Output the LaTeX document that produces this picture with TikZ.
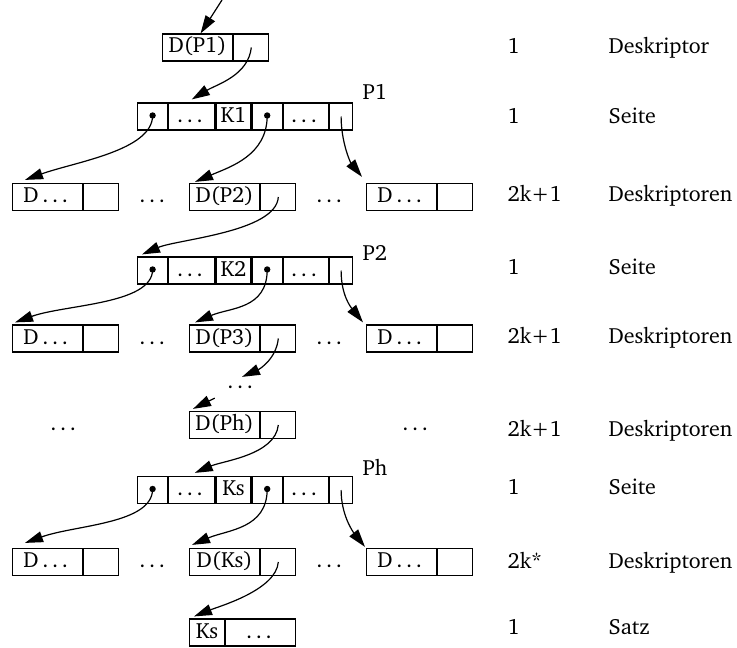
\documentclass[tikz,border=0pt]{standalone}
\usepackage[T1]{fontenc}
\usepackage{charter}
\usetikzlibrary{arrows.meta}
\tikzstyle{cell} = [draw, rectangle, minimum height=13.5pt, inner sep=0pt, anchor=west, text height=7.5pt, text depth=2pt]
\tikzstyle{dlabel} = [cell, minimum width=35pt]
\tikzstyle{dptr} = [cell, minimum width=17.5pt]
\tikzstyle{knot} = [circle, fill, inner sep=0pt, minimum size=3.2pt]
\tikzstyle{gap} = [inner sep=0pt, text height=7.5pt, text depth=2pt]
\tikzstyle{amount} = [anchor=base west, inner sep=0pt]
\tikzstyle{pname} = [anchor=west, inner sep=0pt]

% descriptor: name, x (left), y (middle), text
\newcommand{\descbox}[4]{%
  \node [dlabel] (#1) at (#2,#3) {#4};
  \node [dptr] (#1p) at (#1.east) {};
}
% page: name, y (middle), key
\newcommand{\pagebox}[3]{%
  \node [cell, minimum width=15pt] (#1a) at (137,#2) {};
  \node [cell, minimum width=23pt] (#1b) at (#1a.east) {\dots};
  \node [cell, minimum width=17.5pt] (#1c) at (#1b.east) {#3};
  \node [cell, minimum width=15pt] (#1d) at (#1c.east) {};
  \node [cell, minimum width=22.5pt] (#1e) at (#1d.east) {\dots};
  \node [cell, minimum width=11.5pt] (#1f) at (#1e.east) {};
  \node [knot] (#1ak) at ([yshift=0.5pt]#1a.center) {};
  \node [knot] (#1dk) at ([yshift=0.5pt]#1d.center) {};
}

\begin{document}
\begin{tikzpicture}[x=0.5pt, y=-0.5pt, >={Triangle[length=9pt,width=5.5pt]}, line width=0.6pt, font=\fontsize{11}{13}\selectfont]
	\useasboundingbox (0,0) rectangle (737,647);

	% left: the tree
	\coordinate (in) at (222,0);
	\descbox{top}{162}{47.5}{D(P1)}
	\pagebox{p1}{116.5}{K1}
	\node [pname] (n1) at (362,92) {P1};

	\descbox{l1}{12}{197}{D\,\dots}
	\descbox{m1}{189}{197}{D(P2)}
	\descbox{r1}{366}{197}{D\,\dots}
	\node [gap] (g1) at (154,197) {\dots};
	\node [gap] (h1) at (331,197) {\dots};

	\pagebox{p2}{270.5}{K2}
	\node [pname] (n2) at (362,253) {P2};

	\descbox{l2}{12}{338.5}{D\,\dots}
	\descbox{m2}{189}{338.5}{D(P3)}
	\descbox{r2}{366}{338.5}{D\,\dots}
	\node [gap] (g2) at (154,338.5) {\dots};
	\node [gap] (h2) at (331,338.5) {\dots};

	\node [gap] (skip) at (242,383) {\dots};
	\descbox{mh}{189}{425}{D(Ph)}
	\node [gap] (gh) at (65,425) {\dots};
	\node [gap] (hh) at (417,425) {\dots};

	\pagebox{p3}{490}{Ks}
	\node [pname] (n3) at (362,467) {Ph};

	\descbox{l3}{12}{562}{D\,\dots}
	\descbox{m3}{189}{562}{D(Ks)}
	\descbox{r3}{366}{562}{D\,\dots}
	\node [gap] (g3) at (154,562) {\dots};
	\node [gap] (h3) at (331,562) {\dots};

	\node [cell, minimum width=17.5pt] (ks) at (189,632.5) {Ks};
	\node [cell, minimum width=35pt] (ksr) at (ks.east) {\dots};

	% pointers
	\draw [->] (in) -- ([xshift=1.5pt]top.north);
	\draw [->] (topp.center) .. controls +(-3,28) and +(25,-15) .. ([yshift=1.5pt]p1b.north);
	\draw [->] (p1ak.center) .. controls +(0,35) and +(50,-18) .. ([xshift=6.5pt,yshift=1.5pt]l1.north west);
	\draw [->] (p1dk.center) .. controls +(0,40) and +(35,-15) .. ([xshift=3pt,yshift=0.5pt]m1.north west);
	\draw [->] (p1f.center) .. controls +(0,25) and +(-12,-15) .. ([xshift=-2pt,yshift=3pt]r1.north west);
	\draw [->] (m1p.center) .. controls +(-2,35) and +(35,-15) .. ([xshift=2.5pt,yshift=1pt]p2a.north west);
	\draw [->] (p2ak.center) .. controls +(0,35) and +(50,-18) .. ([xshift=1.5pt,yshift=1pt]l2.north west);
	\draw [->] (p2dk.center) .. controls +(0,40) and +(35,-15) .. ([xshift=3pt,yshift=1pt]m2.north west);
	\draw [->] (p2f.center) .. controls +(0,25) and +(-12,-15) .. ([xshift=-1.5pt,yshift=1pt]r2.north west);
	\draw [->] (m2p.center) .. controls +(-2,20) and +(18,-8) .. ([yshift=-2pt]skip.north);
	\draw [->] ([xshift=-6pt,yshift=-2.5pt]skip.south west) -- ([xshift=2pt,yshift=1pt]mh.north west);
	\draw [->] (mhp.center) .. controls +(-3,30) and +(28,-12) .. ([xshift=1.5pt,yshift=1.5pt]p3b.north);
	\draw [->] (p3ak.center) .. controls +(0,35) and +(50,-18) .. ([xshift=6.5pt,yshift=2.5pt]l3.north west);
	\draw [->] (p3dk.center) .. controls +(0,40) and +(35,-15) .. ([xshift=1.5pt,yshift=1.5pt]m3.north west);
	\draw [->] (p3f.center) .. controls +(0,25) and +(-12,-15) .. ([xshift=-0.5pt,yshift=0.5pt]r3.north west);
	\draw [->] (m3p.center) .. controls +(-2,28) and +(25,-10) .. ([xshift=2.5pt,yshift=1pt]ks.north west);

	% right: counts
	\foreach \y/\n/\t [count=\i] in {53.5/1/Deskriptor, 123.5/1/Seite, 201.5/2k+1/Deskriptoren, 274.5/1/Seite, 343.5/2k+1/Deskriptoren, 436.5/2k+1/Deskriptoren, 494.5/1/Seite, 568.5/2k*/Deskriptoren, 634.5/1/Satz}
	{
		\node [amount] (num\i) at (507,\y) {\n};
		\node [amount] (what\i) at (608,\y) {\t};
	}
\end{tikzpicture}
\end{document}
